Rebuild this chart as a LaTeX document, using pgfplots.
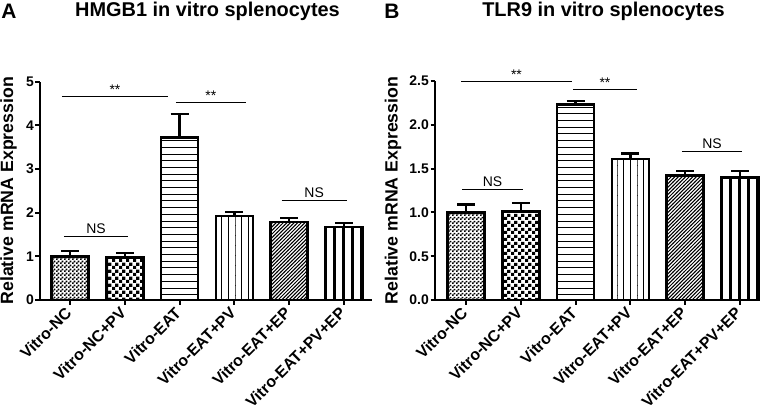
\documentclass[border=0pt]{standalone}
\usepackage{fontspec}
\setmainfont{Liberation Sans}
\usepackage{pgfplots}
\pgfplotsset{compat=1.18}
\usetikzlibrary{patterns}

\pgfdeclarepatternformonly{finecheck}{\pgfpointorigin}{\pgfqpoint{4bp}{4bp}}{\pgfqpoint{4bp}{4bp}}{%
  \pgfpathrectangle{\pgfpointorigin}{\pgfqpoint{2bp}{2bp}}%
  \pgfpathrectangle{\pgfqpoint{2bp}{2bp}}{\pgfqpoint{2bp}{2bp}}%
  \pgfusepath{fill}}
\pgfdeclarepatternformonly{coarsecheck}{\pgfpointorigin}{\pgfqpoint{7bp}{7bp}}{\pgfqpoint{7bp}{7bp}}{%
  \pgfpathrectangle{\pgfpointorigin}{\pgfqpoint{3.5bp}{3.5bp}}%
  \pgfpathrectangle{\pgfqpoint{3.5bp}{3.5bp}}{\pgfqpoint{3.5bp}{3.5bp}}%
  \pgfusepath{fill}}
\pgfdeclarepatternformonly{hlines}{\pgfpointorigin}{\pgfqpoint{10bp}{1.2bp}}{\pgfqpoint{10bp}{6.7bp}}{%
  \pgfsetlinewidth{1bp}%
  \pgfpathmoveto{\pgfqpoint{-1bp}{0.6bp}}\pgfpathlineto{\pgfqpoint{11bp}{0.6bp}}%
  \pgfusepath{stroke}}
\pgfdeclarepatternformonly{vlines}{\pgfpointorigin}{\pgfqpoint{1.2bp}{10bp}}{\pgfqpoint{6.7bp}{10bp}}{%
  \pgfsetlinewidth{1bp}%
  \pgfpathmoveto{\pgfqpoint{0.6bp}{-1bp}}\pgfpathlineto{\pgfqpoint{0.6bp}{11bp}}%
  \pgfusepath{stroke}}
\pgfdeclarepatternformonly{thickvlines}{\pgfpointorigin}{\pgfqpoint{3bp}{10bp}}{\pgfqpoint{9bp}{10bp}}{%
  \pgfsetlinewidth{2.6bp}%
  \pgfpathmoveto{\pgfqpoint{1.5bp}{-1bp}}\pgfpathlineto{\pgfqpoint{1.5bp}{11bp}}%
  \pgfusepath{stroke}}
\pgfdeclarepatternformonly{nelines}{\pgfqpoint{-1bp}{-1bp}}{\pgfqpoint{4bp}{4bp}}{\pgfqpoint{3.6bp}{3.6bp}}{%
  \pgfsetlinewidth{1bp}%
  \pgfpathmoveto{\pgfqpoint{-0.2bp}{-0.2bp}}\pgfpathlineto{\pgfqpoint{3.8bp}{3.8bp}}%
  \pgfusepath{stroke}}

\pgfplotsset{
  prism/.style={
    scale only axis, clip=false,
    axis x line*=bottom, axis y line*=left,
    axis line style={line width=2bp},
    tick style={line width=2bp, black},
    major tick length=4.5bp, tick align=outside,
    ymin=0,
    xtick={0,1,2,3,4,5},
    xticklabels={Vitro-NC,Vitro-NC+PV,Vitro-EAT,Vitro-EAT+PV,Vitro-EAT+EP,Vitro-EAT+PV+EP},
    xticklabel style={font=\fontsize{16}{16}\selectfont\bfseries, rotate=45, anchor=east, inner sep=1bp, xshift=-4bp, yshift=-3bp},
    yticklabel style={font=\fontsize{14}{14}\selectfont\bfseries, inner sep=1.5bp},
    /pgf/number format/assume math mode=true,
    ylabel={Relative mRNA Expression},
    ylabel style={font=\fontsize{17.8}{17.8}\selectfont\bfseries, anchor=center},
    ybar, bar width=37bp,
  },
  barsty/.style={draw=black, fill=white, line width=2.5bp, bar shift=0pt,
    postaction={pattern=#1},
    error bars/.cd, y dir=plus, y explicit,
    error bar style={line width=2.5bp, black},
    error mark options={rotate=90, line width=2.5bp, mark size=9bp, black}},
}

\newcommand{\sig}[4]{% x1 x2 y text
  \draw[line width=1bp] (axis cs:#1,#3) -- (axis cs:#2,#3);
  \node[anchor=south, inner sep=0pt, yshift=2.5bp, font=\fontsize{14}{14}\selectfont] at (axis cs:{(#1+#2)/2},#3) {#4};}

\begin{document}
\begin{tikzpicture}
\path[use as bounding box] (0,0) rectangle (770bp,416bp);

% Panel A
\node[font=\fontsize{21}{21}\selectfont\bfseries] at (9bp,405bp) {A};
\node[font=\fontsize{20}{20}\selectfont\bfseries] at (207.5bp,405bp) {HMGB1 in vitro splenocytes};
\begin{axis}[prism, at={(40bp,116bp)}, anchor=south west,
  width=332bp, height=218.5bp,
  xmin=-0.547, xmax=5.51, ymax=5, ytick={0,1,2,3,4,5},
  ylabel style={at={(axis description cs:-0.095,0.5)}}]
\addplot[barsty=finecheck] coordinates {(0,1.00) +- (0,0.12)};
\addplot[barsty=coarsecheck] coordinates {(1,0.97) +- (0,0.11)};
\addplot[barsty=hlines] coordinates {(2,3.72) +- (0,0.54)};
\addplot[barsty=vlines] coordinates {(3,1.92) +- (0,0.09)};
\addplot[barsty=nelines] coordinates {(4,1.78) +- (0,0.10)};
\addplot[barsty=thickvlines] coordinates {(5,1.67) +- (0,0.09)};
\sig{-0.15}{1.79}{4.65}{**}
\sig{1.93}{3.21}{4.51}{**}
\sig{-0.11}{1.06}{1.45}{NS}
\sig{3.86}{5.05}{2.27}{NS}
\end{axis}

% Panel B
\node[font=\fontsize{21}{21}\selectfont\bfseries] at (392bp,405bp) {B};
\node[font=\fontsize{20}{20}\selectfont\bfseries] at (603.5bp,405bp) {TLR9 in vitro splenocytes};
\begin{axis}[prism, at={(435bp,116bp)}, anchor=south west,
  width=325bp, height=219bp,
  xmin=-0.566, xmax=5.365, ymax=2.5, ytick={0,0.5,1,1.5,2,2.5},
  yticklabel style={/pgf/number format/.cd, fixed, fixed zerofill, precision=1},
  ylabel style={at={(axis description cs:-0.129,0.5)}}]
\addplot[barsty=finecheck] coordinates {(0,1.00) +- (0,0.09)};
\addplot[barsty=coarsecheck] coordinates {(1,1.01) +- (0,0.10)};
\addplot[barsty=hlines] coordinates {(2,2.23) +- (0,0.04)};
\addplot[barsty=vlines] coordinates {(3,1.61) +- (0,0.06)};
\addplot[barsty=nelines] coordinates {(4,1.42) +- (0,0.05)};
\addplot[barsty=thickvlines] coordinates {(5,1.40) +- (0,0.07)};
\sig{-0.09}{1.93}{2.49}{**}
\sig{1.95}{3.12}{2.40}{**}
\sig{-0.07}{1.04}{1.26}{NS}
\sig{3.94}{5.04}{1.70}{NS}
\end{axis}
\end{tikzpicture}
\end{document}
